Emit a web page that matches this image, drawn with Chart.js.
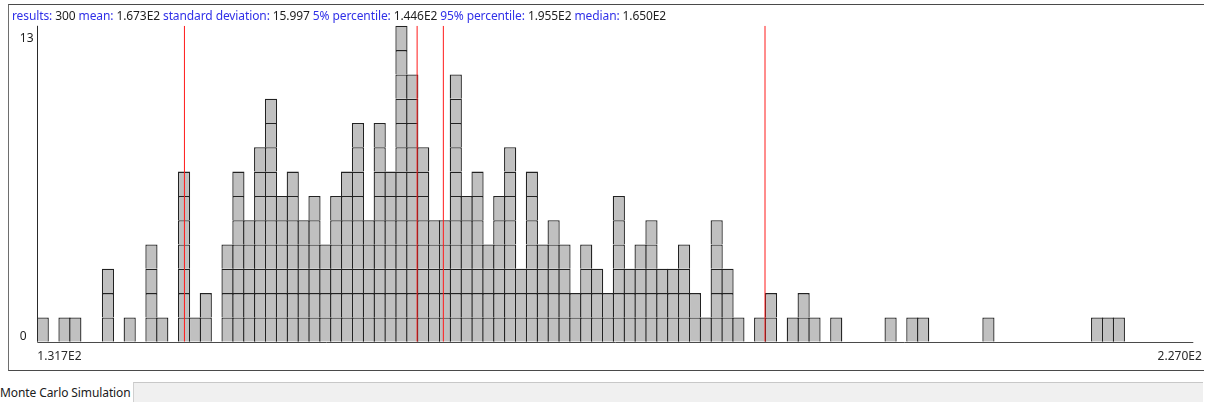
<!DOCTYPE html>
<html>
<head>
<meta charset="utf-8">
<script src="https://cdn.jsdelivr.net/npm/chart.js@4.4.1/dist/chart.umd.min.js"></script>
<style>
  html, body { margin: 0; padding: 0; background: #ffffff; width: 1206px; height: 402px; overflow: hidden; }
  body { position: relative; font-family: "Noto Sans", "Open Sans", sans-serif; }
  #frame { position: absolute; left: 8px; top: 4px; width: 1195px; height: 365px;
           border-left: 1px solid #6e6e6e; border-top: 1px solid #4a4a4a; border-bottom: 1px solid #4a4a4a; }
  #chart { position: absolute; left: 0; top: 0; }
  #stats { position: absolute; left: 12px; top: 8px; font-size: 12px; line-height: 16px; white-space: nowrap;
           color: #1e1e1e; letter-spacing: -0.1px; }
  #stats .k { color: #3030e8; }
  #statusLabel { position: absolute; left: 0; top: 385px; font-size: 12px; line-height: 16px; color: #202020;
                 white-space: nowrap; letter-spacing: -0.1px; }
  #statusBox { position: absolute; left: 133px; top: 382px; width: 1069px; height: 24px; background: #f0f0f0;
               border-top: 1px solid #c8c8c8; border-left: 1px solid #d0d0d0; }
</style>
</head>
<body>
<div id="frame"></div>
<canvas id="chart" width="1206" height="372"></canvas>
<div id="stats"></div>
<div id="statusLabel">Monte Carlo Simulation</div>
<div id="statusBox"></div>
<script>
// Summary statistics shown in the header line
const statNames  = ['results:', 'mean:', 'standard deviation:', '5% percentile:', '95% percentile:', 'median:'];
const statValues = ['300', '1.673E2', '15.997', '1.446E2', '1.955E2', '1.650E2'];

// Histogram bins: first bin edge, bin width and the count in each of the 100 bins
const binStart = 131.7;
const binWidth = 0.953;
const binCounts = [
  1, 0, 1, 1, 0, 0, 3, 0, 1, 0,
  4, 1, 0, 7, 1, 2, 0, 4, 7, 5,
  8, 10, 6, 7, 5, 6, 4, 6, 7, 9,
  5, 9, 7, 13, 11, 8, 5, 5, 11, 6,
  7, 4, 6, 8, 3, 7, 4, 5, 4, 2,
  4, 3, 2, 6, 3, 4, 5, 3, 3, 4,
  2, 1, 5, 3, 1, 0, 1, 2, 0, 1,
  2, 1, 0, 1, 0, 0, 0, 0, 1, 0,
  1, 1, 0, 0, 0, 0, 0, 1, 0, 0,
  0, 0, 0, 0, 0, 0, 0, 1, 1, 1
];

// Axis extents and tick labels
const xMin = 131.7;
const xMax = 233.05;
const yTicks = [0, 13];
const xTickLabels = ['1.317E2', '2.270E2'];

// Vertical marker lines: 5% percentile, median, mean, 95% percentile
const markerValues = [statValues[3], statValues[5], statValues[1], statValues[4]].map(Number);

// Header line
const statsEl = document.getElementById('stats');
statNames.forEach((name, i) => {
  const k = document.createElement('span');
  k.className = 'k';
  k.textContent = name + ' ';
  const v = document.createElement('span');
  v.textContent = statValues[i] + ' ';
  statsEl.appendChild(k);
  statsEl.appendChild(v);
});

// Each result is one box: level k holds a box in every bin whose count reaches k.
// Neighbouring boxes overlap by one outline width so shared edges read as a single line.
const OUTLINE = 1.3;
const yMax = yTicks[yTicks.length - 1];
const maxCount = Math.max(...binCounts);
const boxLevels = [];
for (let k = 1; k <= maxCount; k++) {
  const pts = [];
  binCounts.forEach((c, i) => {
    if (c >= k) pts.push({ x: binStart + (i + 0.5) * binWidth, y: 1 });
  });
  boxLevels.push({
    type: 'bar',
    data: pts,
    stack: 'boxes',
    backgroundColor: '#c0c0c0',
    borderColor: '#222222',
    borderWidth: OUTLINE,
    borderSkipped: 'start',
    inflateAmount: 0,
    categoryPercentage: 1,
    barPercentage: 1.12,
    order: 1
  });
}

const markerLines = markerValues.map(v => ({
  type: 'line',
  data: [{ x: v, y: 0 }, { x: v, y: yMax }],
  borderColor: '#ff1a1a',
  borderWidth: 1,
  pointRadius: 0,
  fill: false,
  order: 0
}));

const FONT = '12px "Noto Sans", "Open Sans", sans-serif';

// Axis lines and end labels
const histAxes = {
  id: 'histAxes',
  afterDatasetsDraw(chart) {
    const { ctx, chartArea: a, scales } = chart;
    ctx.save();
    ctx.lineWidth = 1;
    ctx.strokeStyle = '#2a2a2a';
    ctx.beginPath();
    ctx.moveTo(Math.round(a.left) + 0.5, a.top);
    ctx.lineTo(Math.round(a.left) + 0.5, a.bottom);
    ctx.stroke();
    ctx.strokeStyle = '#4a4a4a';
    ctx.beginPath();
    ctx.moveTo(a.left, Math.round(a.bottom) + 0.5);
    ctx.lineTo(a.right, Math.round(a.bottom) + 0.5);
    ctx.stroke();

    ctx.font = FONT;
    ctx.fillStyle = '#202020';
    ctx.textAlign = 'left';
    ctx.textBaseline = 'middle';
    yTicks.forEach((t, i) => {
      const py = scales.y.getPixelForValue(t);
      const dy = i === yTicks.length - 1 ? 13 : -5;
      ctx.fillText(String(t), a.left - 17.5, py + dy);
    });

    ctx.fillStyle = '#2a2a2a';
    ctx.textAlign = 'left';
    ctx.fillText(xTickLabels[0], a.left, a.bottom + 15);
    ctx.textAlign = 'right';
    ctx.fillText(xTickLabels[1], a.right + 8.5, a.bottom + 15);
    ctx.restore();
  }
};

new Chart(document.getElementById('chart'), {
  type: 'bar',
  data: { datasets: [...markerLines, ...boxLevels] },
  options: {
    responsive: false,
    animation: false,
    layout: { padding: { left: 37.3, right: 12.7, top: 25.8, bottom: 30.3 } },
    plugins: { legend: { display: false }, tooltip: { enabled: false } },
    scales: {
      x: { type: 'linear', min: xMin, max: xMax, offset: false, display: false },
      y: { type: 'linear', min: 0, max: yMax, display: false }
    }
  },
  plugins: [histAxes]
});
</script>
</body>
</html>
